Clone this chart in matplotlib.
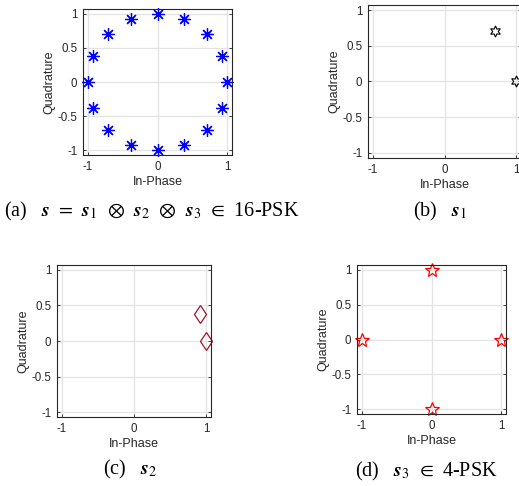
import matplotlib
matplotlib.use("Agg")
import matplotlib.pyplot as plt

plt.rcParams['font.family'] = ['Liberation Sans', 'DejaVu Sans']
plt.rcParams['mathtext.fontset'] = 'stix'

# Data
psk16_i = [1.0, 0.924, 0.707, 0.383, 0.0, -0.383, -0.707, -0.924,
           -1.0, -0.924, -0.707, -0.383, 0.0, 0.383, 0.707, 0.924]
psk16_q = [0.0, 0.383, 0.707, 0.924, 1.0, 0.924, 0.707, 0.383,
           0.0, -0.383, -0.707, -0.924, -1.0, -0.924, -0.707, -0.383]
s1_i = [1.0, 0.707]
s1_q = [0.0, 0.707]
s2_i = [1.0, 0.924]
s2_q = [0.0, 0.383]
s3_i = [1.0, 0.0, -1.0, 0.0]
s3_q = [0.0, 1.0, 0.0, -1.0]

xticks = [-1, 0, 1]
yticks = [-1, -0.5, 0, 0.5, 1]
xticklabels = ['-1', '0', '1']
yticklabels = ['-1', '-0.5', '0', '0.5', '1']

W, H = 519, 486
fig = plt.figure(figsize=(W / 100, H / 100), dpi=100)

def px(l, t, r, b):
    return [l / W, (H - b) / H, (r - l) / W, (b - t) / H]

def style(ax):
    ax.set_xlim(-1.07, 1.07)
    ax.set_ylim(-1.07, 1.07)
    ax.set_xticks(xticks)
    ax.set_xticklabels(xticklabels)
    ax.set_yticks(yticks)
    ax.set_yticklabels(yticklabels)
    ax.grid(True, color='#e3e3e3', linewidth=0.9)
    ax.set_axisbelow(True)
    ax.tick_params(direction='in', length=2.5, width=0.6, labelsize=8.3,
                   colors='#262626', top=False, right=True)
    ax.tick_params(axis='x', pad=4.5)
    ax.tick_params(axis='y', pad=4.0)
    for s in ax.spines.values():
        s.set_color('#262626')
        s.set_linewidth(0.8)
    ax.set_xlabel('In-Phase', fontsize=9, color='#262626', labelpad=2)
    ax.set_ylabel('Quadrature', fontsize=9, color='#262626', labelpad=1.5)

# (a)
ax = fig.add_axes(px(83, 9, 232, 155))
style(ax)
ax.plot(psk16_i, psk16_q, linestyle='none', marker=(8, 2, 0), markersize=9,
        markeredgecolor='#0000ff', markeredgewidth=0.9, clip_on=False)
ax.plot(psk16_i, psk16_q, linestyle='none', marker='o', markersize=2.3,
        color='#0000ff', clip_on=False)

# (b)
ax = fig.add_axes(px(368, 5, 521, 158))
style(ax)
ax.plot(s1_i, s1_q, linestyle='none', marker=(6, 1, 0), markersize=8,
        markerfacecolor='none', markeredgecolor='black', markeredgewidth=0.8,
        clip_on=False)

# (c)
ax = fig.add_axes(px(57, 265, 211, 417))
style(ax)
ax.plot(s2_i, s2_q, linestyle='none', marker='d', markersize=9.5,
        markerfacecolor='none', markeredgecolor='#a2142f', markeredgewidth=0.9,
        clip_on=False)

# (d)
ax = fig.add_axes(px(357, 265, 506, 414))
style(ax)
ax.plot(s3_i, s3_q, linestyle='none', marker='*', markersize=10.5,
        markerfacecolor='none', markeredgecolor='#ff0000', markeredgewidth=0.9,
        clip_on=False)

cap = dict(fontsize=14.5, family='Liberation Serif', ha='center', va='center')
sp = r'\;\,'
fig.text(152 / W, 1 - 211 / H,
         r'(a)   $\mathbfit{s}' + sp + '=' + sp + r'\mathbfit{s}_1' + sp + r'\otimes' + sp +
         r'\mathbfit{s}_2' + sp + r'\otimes' + sp + r'\mathbfit{s}_3' + sp + r'\in' + sp + '$16-PSK', **cap)
fig.text(440 / W, 1 - 211 / H, r'(b)   $\mathbfit{s}_1$', **cap)
fig.text(130 / W, 1 - 469 / H, r'(c)   $\mathbfit{s}_2$', **cap)
fig.text(426 / W, 1 - 471 / H, r'(d)   $\mathbfit{s}_3' + sp + r'\in' + sp + '$4-PSK', **cap)

fig.savefig('out.png', dpi=100)
